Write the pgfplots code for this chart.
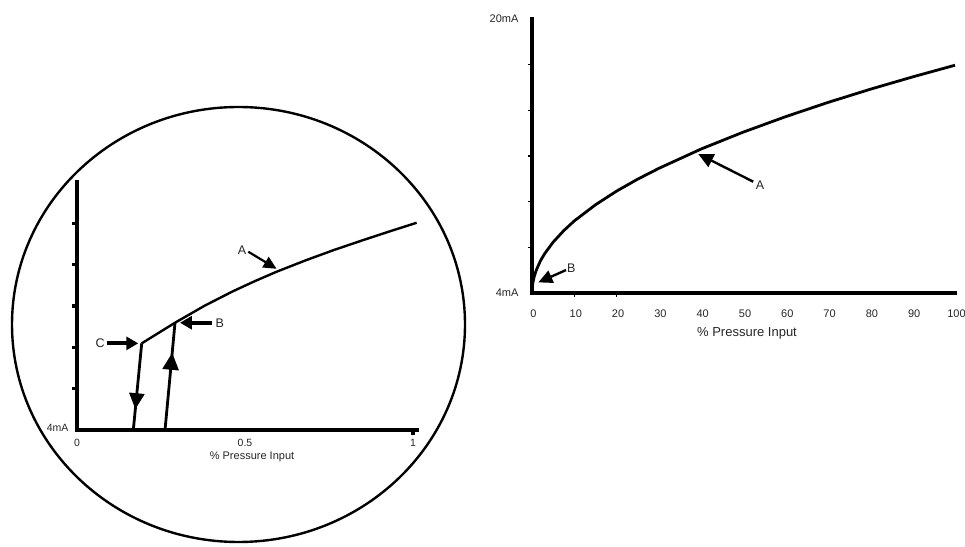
\documentclass[border=0pt]{standalone}
\usepackage{fontspec}
\setmainfont{Liberation Sans}
\usepackage{pgfplots}
\pgfplotsset{compat=1.18}
\usetikzlibrary{arrows.meta,decorations.markings}

\pgfplotstableread{
x y
0.1926 9.59
0.2917 10.92
0.38 12.02
0.465 12.96
0.53 13.61
0.594 14.21
0.68 14.94
0.763 15.60
0.85 16.24
0.93 16.81
1.011 17.37
}\leftcurve

\pgfplotstableread{
x y
0 4.00
0.1 4.42
0.2 4.59
0.5 4.94
1 5.33
2 5.88
3 6.30
5 6.97
7.5 7.64
10 8.21
15 9.15
20 9.95
25 10.65
30 11.28
40 12.41
50 13.40
60 14.30
70 15.13
80 15.90
90 16.62
100 17.30
}\rightcurve

\begin{document}
\begin{tikzpicture}[x=1pt,y=1pt]
\useasboundingbox (0pt,0pt) rectangle (965pt,546pt);
\draw[line width=2.4pt] (238.5pt,221.5pt) ellipse [x radius=226.5pt, y radius=217.5pt];

% ---------------- left (magnified) axis ----------------
\begin{axis}[
  at={(77pt,116pt)}, anchor=south west, scale only axis,
  width=340pt, height=248pt,
  xmin=0, xmax=1.012, ymin=4, ymax=20, clip=false,
  axis lines=left,
  axis line style={-, line width=4pt, line cap=rect, black},
  xtick={0,0.5,1}, xticklabels={0,0.5,1},
  ytick={4}, yticklabels={4mA},
  major tick length=0pt, tick align=outside,
  extra x ticks={1},
  extra y ticks={6.6667,9.3333,12,14.6667,17.3333},
  extra tick style={major tick length=5pt, tick style={line width=3.2pt, black}, xticklabel={}, yticklabel={}},
  xticklabel style={anchor=base, yshift=-16.5pt, font=\fontsize{10.5}{12}\selectfont, text=black!85},
  yticklabel style={anchor=east, xshift=-5pt, yshift=2pt, font=\fontsize{10.5}{12}\selectfont, text=black!85},
  xlabel={\% Pressure Input},
  xlabel style={at={(axis description cs:0.5,0)}, anchor=base, yshift=-29pt, xshift=5pt, font=\fontsize{11}{12}\selectfont, text=black!85},
]
\addplot[black, line width=2.4pt, line join=round] table[x=x,y=y] {\leftcurve};
\addplot[black, line width=2.8pt, postaction={decorate},
  decoration={markings, mark=at position 0.76 with {\arrow{Triangle[length=16pt,width=15pt]}}}]
  coordinates {(0.1926,9.59) (0.1676,4)};
\addplot[black, line width=2.8pt, postaction={decorate},
  decoration={markings, mark=at position 0.72 with {\arrow{Triangle[length=17pt,width=16pt]}}}]
  coordinates {(0.262,4) (0.2917,10.92)};
% annotations
\draw[black, line width=2.2pt, -{Triangle[length=13pt,width=12pt]}] (axis cs:0.510,15.50) -- (axis cs:0.594,14.40);
\node[font=\fontsize{12.5}{13}\selectfont, text=black!85] at (axis cs:0.491,15.61) {A};
\draw[black, line width=3.8pt, -{Triangle[length=12pt,width=13pt]}] (axis cs:0.401,10.92) -- (axis cs:0.3065,10.92);
\node[font=\fontsize{12.5}{13}\selectfont, text=black!85] at (axis cs:0.425,10.92) {B};
\draw[black, line width=3.8pt, -{Triangle[length=12pt,width=13pt]}] (axis cs:0.0884,9.59) -- (axis cs:0.1824,9.59);
\node[font=\fontsize{12.5}{13}\selectfont, text=black!85] at (axis cs:0.0685,9.59) {C};
\end{axis}

% ---------------- right (full range) axis ----------------
\begin{axis}[
  at={(532pt,253pt)}, anchor=south west, scale only axis,
  width=423pt, height=274pt,
  xmin=0, xmax=100, ymin=4, ymax=20, clip=false,
  axis lines=left,
  axis line style={-, line width=4pt, line cap=rect, black},
  xtick={0,10,20,30,40,50,60,70,80,90,100},
  xticklabels={0,10,20,30,40,50,60,70,80,90,100\hspace{-2pt}},
  ytick={4,20}, yticklabels={4mA,20mA},
  major tick length=0pt, tick align=outside,
  extra x ticks={10,20},
  extra y ticks={6.6667,9.3333,12,14.6667,17.3333},
  extra tick style={major tick length=4pt, tick style={line width=1.6pt, black}, xticklabel={}, yticklabel={}},
  xticklabel style={anchor=base, yshift=-25pt, xshift=1.5pt, font=\fontsize{11}{13}\selectfont, text=black!85},
  yticklabel style={anchor=east, xshift=-10pt, font=\fontsize{11}{12}\selectfont, text=black!85},
  xlabel={\% Pressure Input},
  xlabel style={at={(axis description cs:0.5,0)}, anchor=base, yshift=-44pt, xshift=3.5pt, font=\fontsize{13}{14}\selectfont, text=black!85},
]
\addplot[black, line width=2.8pt, line join=round] table[x=x,y=y] {\rightcurve};
\draw[black, line width=2.4pt, -{Triangle[length=15pt,width=14pt]}] (axis cs:52.3,10.50) -- (axis cs:39.3,12.12);
\node[font=\fontsize{12.5}{13}\selectfont, text=black!85] at (axis cs:53.9,10.27) {A};
\draw[black, line width=2.4pt, -{Triangle[length=14pt,width=13pt]}] (axis cs:8.04,5.34) -- (axis cs:1.5,4.62);
\node[font=\fontsize{12.5}{13}\selectfont, text=black!85] at (axis cs:9.3,5.44) {B};
\end{axis}
\end{tikzpicture}
\end{document}
